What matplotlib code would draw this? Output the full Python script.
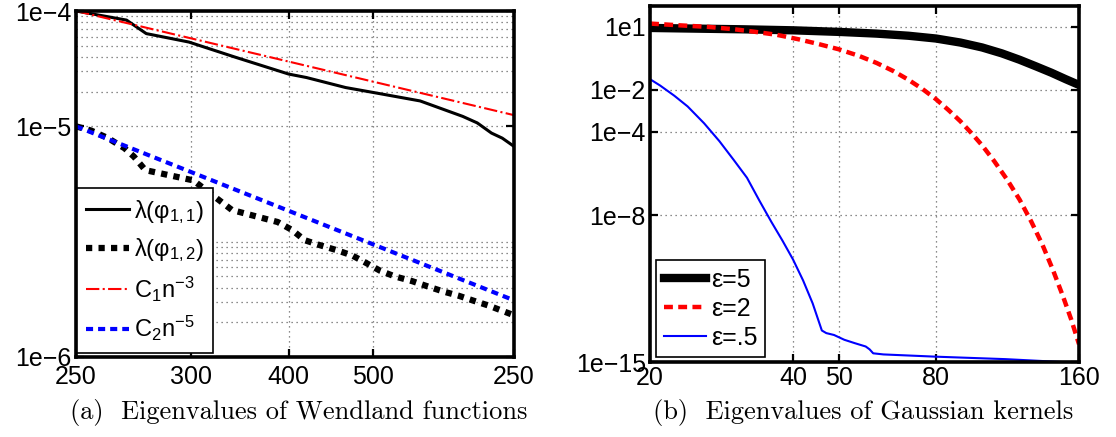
import matplotlib
matplotlib.use('Agg')
import matplotlib.pyplot as plt
from matplotlib.ticker import NullLocator

plt.rcParams['font.family'] = ['Liberation Sans', 'DejaVu Sans']
plt.rcParams['mathtext.fontset'] = 'custom'
plt.rcParams['mathtext.rm'] = 'Liberation Sans'
plt.rcParams['mathtext.it'] = 'Liberation Sans'
plt.rcParams['mathtext.bf'] = 'Liberation Sans:bold'

# (a) Wendland eigenvalues
n_w11 = [250, 270.8, 279.4, 298.9, 321.6, 350, 360, 383, 400.7, 431, 461, 471.8, 482.5, 490.8, 500]
lam_w11 = [1e-4, 8.34e-5, 6.37e-5, 5.38e-5, 3.98e-5, 2.84e-5, 2.65e-5, 2.17e-5, 1.96e-5,
           1.66e-5, 1.22e-5, 1.07e-5, 8.74e-6, 7.9e-6, 6.7e-6]

n_w12 = [250, 256, 263, 270, 274, 279, 301, 320, 344, 352, 359, 368, 377, 387, 396,
         404.5, 414, 425.5, 436, 447, 458, 470, 480, 500]
lam_w12 = [1e-5, 9.2e-6, 7.9e-6, 6.45e-6, 5.46e-6, 4.17e-6, 3.4e-6, 1.88e-6, 1.48e-6,
           1.26e-6, 1.03e-6, 9.3e-7, 8.5e-7, 7.6e-7, 6.5e-7, 5.6e-7, 5.0e-7, 4.55e-7,
           4.1e-7, 3.7e-7, 3.4e-7, 3.05e-7, 2.8e-7, 2.3e-7]

n_ref = [250, 500]
c1_ref = [1e-4, 1.25e-5]
c2_ref = [1e-5, 3.1e-7]

wend_xticks = [250, 300, 350, 400, 500]
wend_xlabels = ['250', '300', '400', '500', '250']
wend_yticks = [1e-7, 1e-5, 1e-4]
wend_ylabels = ['1e\u22126', '1e\u22125', '1e\u22124']
wend_hgrid = [1e-6, 2e-7, 3e-7, 4e-7, 5e-7, 6e-7, 7e-7, 8e-7, 9e-7,
              2e-5, 3e-5, 4e-5, 5e-5, 6e-5, 7e-5, 8e-5, 9e-5]

# (b) Gaussian eigenvalues
n_e5 = [20, 31.5, 40, 50, 60, 70, 80, 90, 100, 110, 120, 130, 140, 150, 160]
lam_e5 = [8.95, 7.7, 6.9, 5.8, 4.8, 3.8, 2.8, 1.8, 1.05, 0.55, 0.27, 0.13, 0.065,
          0.032, 0.017]

n_e2 = [20, 23, 26.6, 30, 33, 37, 41, 45, 50, 55, 60, 65, 70, 75, 80, 85, 90, 95,
        100, 106, 113, 120, 127, 134, 141, 148, 154, 160]
lam_e2 = [14.5, 12.0, 10, 7.8, 6.0, 4.2, 2.6, 1.58, 0.85, 0.42, 0.19, 0.079, 0.030,
          0.0107, 3.55e-3, 1.07e-3, 3.16e-4, 8.5e-5, 2.24e-5, 4.0e-6, 5.0e-7, 5.6e-8,
          5.0e-9, 4.0e-10, 2.5e-11, 1.4e-12, 1.1e-13, 7.1e-15]

n_e05 = [20, 21, 22.5, 24, 26, 28, 30, 32, 34, 36, 38, 40, 42, 44, 46, 47, 48.8,
         51.3, 54, 56.9, 58, 59, 62, 79.7, 112, 147]
lam_e05 = [3.2e-2, 1.6e-2, 5.2e-3, 1.6e-3, 2.5e-4, 3.5e-5, 4.5e-6, 6.3e-7, 5.0e-8,
           5.0e-9, 6.3e-10, 7.9e-11, 7.9e-12, 6.3e-13, 3.2e-14, 2.4e-14, 1.95e-14,
           1.15e-14, 7.9e-15, 5.5e-15, 4.0e-15, 2.6e-15, 2.3e-15, 1.8e-15, 1.37e-15,
           1.0e-15]

gauss_xticks = [20, 40, 50, 80, 160]
gauss_yticks = [1e-15, 1e-8, 1e-4, 1e-2, 1e1]
gauss_ylabels = ['1e\u221215', '1e\u22128', '1e\u22124', '1e\u22122', '1e1']

GRID = dict(linestyle=(0, (1, 3)), color='0.4', linewidth=0.9)


#====================================================================================
def style_axes(ax, xpad):
    for s in ax.spines.values():
        s.set_linewidth(2.6)
    ax.tick_params(which='both', direction='in', top=True, right=True,
                   length=6, width=1.6, labelsize=18)
    ax.tick_params(axis='y', pad=3)
    ax.tick_params(axis='x', pad=xpad)
    ax.set_axisbelow(True)
    ax.grid(True, which='major', **GRID)


#====================================================================================
def plot_wendland(ax):
    ax.set_xscale('log')
    ax.set_yscale('log')

    ax.plot(n_w11, lam_w11, color='k', lw=2.2, label='\u03bb(\u03c6$_{1,1}$)')
    ax.plot(n_w12, lam_w12, color='k', lw=4.5, linestyle=(0, (1, 1)),
            label='\u03bb(\u03c6$_{1,2}$)')
    ax.plot(n_ref, c1_ref, color='red', lw=1.5, linestyle='-.', label='C$_1$n$^{-3}$')
    ax.plot(n_ref, c2_ref, color='blue', lw=3, linestyle=(0, (1.7, 1.2)),
            label='C$_2$n$^{-5}$')

    ax.set_xlim(250, 500)
    ax.set_ylim(1e-7, 1e-4)
    style_axes(ax, 6)
    ax.set_xticks(wend_xticks)
    ax.set_xticklabels(wend_xlabels)
    ax.set_yticks(wend_yticks)
    ax.set_yticklabels(wend_ylabels)
    ax.xaxis.set_minor_locator(NullLocator())
    ax.yaxis.set_minor_locator(NullLocator())
    for v in wend_hgrid:
        ax.axhline(v, zorder=0.5, **GRID)

    leg = ax.legend(loc='lower left', bbox_to_anchor=(0.002, 0.012), borderaxespad=0,
                    fontsize=17, handlelength=1.8, handletextpad=0.2, labelspacing=0.45,
                    borderpad=0.4, fancybox=False, framealpha=1, edgecolor='k')
    leg.get_frame().set_linewidth(1.2)


#====================================================================================
def plot_gaussian(ax):
    ax.set_xscale('log')
    ax.set_yscale('log')

    ax.plot(n_e5, lam_e5, color='k', lw=6, label='\u03b5=5')
    ax.plot(n_e2, lam_e2, color='red', lw=3.2, linestyle=(0, (2, 1.2)), label='\u03b5=2')
    ax.plot(n_e05, lam_e05, color='blue', lw=1.5, label='\u03b5=.5')

    ax.set_xlim(20, 160)
    ax.set_ylim(1e-15, 1e2)
    style_axes(ax, 3)
    ax.set_xticks(gauss_xticks)
    ax.set_xticklabels([str(t) for t in gauss_xticks])
    ax.set_yticks(gauss_yticks)
    ax.set_yticklabels(gauss_ylabels)
    ax.xaxis.set_minor_locator(NullLocator())
    ax.yaxis.set_minor_locator(NullLocator())

    leg = ax.legend(loc='lower left', bbox_to_anchor=(0.014, 0.014), borderaxespad=0,
                    fontsize=18, handlelength=1.7, handletextpad=0.2, labelspacing=0.2,
                    borderpad=0.3, fancybox=False, framealpha=1, edgecolor='k')
    leg.get_frame().set_linewidth(1.2)


#====================================================================================
if __name__ == "__main__":
    fig = plt.figure(figsize=(11.16, 4.37), dpi=100)
    ax1 = fig.add_axes([76 / 1116, 1 - 357 / 437, 438 / 1116, 346 / 437])
    ax2 = fig.add_axes([650 / 1116, 1 - 362 / 437, 429 / 1116, 356 / 437])

    plot_wendland(ax1)
    plot_gaussian(ax2)

    fig.text(0.268, 0.057, '(a)  Eigenvalues of Wendland functions', ha='center',
             va='center', fontsize=19, family='cmr10')
    fig.text(0.773, 0.057, '(b)  Eigenvalues of Gaussian kernels', ha='center',
             va='center', fontsize=19, family='cmr10')

    fig.savefig('out.png', dpi=100)
